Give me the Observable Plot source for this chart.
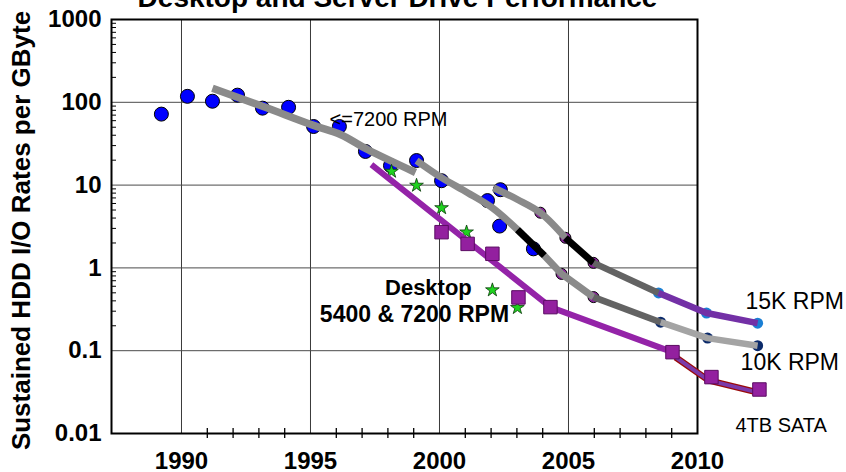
<!DOCTYPE html>
<html><head><meta charset="utf-8">
<script src="https://cdn.jsdelivr.net/npm/d3@7"></script>
<script src="https://cdn.jsdelivr.net/npm/@observablehq/plot@0.6"></script>
<style>
html,body{margin:0;padding:0;background:#fff;overflow:hidden}
#chart svg{display:block}
</style></head><body><div id="chart"></div>
<script>
// ---- data ----
const title = "Desktop and Server Drive Performance";
const yTitle = "Sustained HDD I/O Rates per GByte";
const xTickYears = [1990, 1995, 2000, 2005, 2010];
const xTickLabels = ["1990", "1995", "2000", "2005", "2010"];
const xMinorYears = [1991,1992,1993,1994,1996,1997,1998,1999,2001,2002,2003,2004,2006,2007,2008,2009];
const yTickValues = [0.01, 0.1, 1, 10, 100, 1000];
const yTickLabels = ["0.01", "0.1", "1", "10", "100", "1000"];
const yMinorDecades = [0.1, 1, 10, 100];
const yMinorMultipliers = [2, 3, 4, 5, 6, 7, 8, 9];

// blue dots (<=7200 RPM drives)
const blueYears  = [1989.22, 1990.23, 1991.20, 1992.17, 1993.14, 1994.15, 1995.12, 1996.12, 1997.13, 1998.10, 1999.11, 2000.08, 2001.86, 2002.36, 2002.33, 2003.64];
const blueValues = [72, 118, 103, 122, 85, 87, 51, 51, 25.5, 17.2, 19.8, 11.3, 6.5, 8.8, 3.2, 1.7];
// green stars
const starYears  = [1998.14, 1999.11, 2000.08, 2001.05, 2002.05, 2003.02];
const starValues = [14.6, 9.9, 5.3, 2.7, 0.54, 0.33];
// purple squares (desktop)
const squareYears  = [2000.08, 2001.09, 2002.05, 2003.06, 2004.30, 2009.03, 2010.54, 2012.40];
const squareValues = [2.7, 1.95, 1.48, 0.44, 0.336, 0.096, 0.048, 0.034];
// purple circles on server curves
const pcircleYears  = [2003.91, 2004.88, 2005.97, 2004.73, 2005.97];
const pcircleValues = [4.64, 2.31, 1.15, 0.846, 0.444];
// 15K points / 10K points
const k15DotYears  = [2008.49, 2010.35, 2012.33];
const k15DotValues = [0.498, 0.285, 0.215];
const k10DotYears  = [2008.57, 2010.39, 2012.33];
const k10DotValues = [0.221, 0.142, 0.115];

// trend lines
const r7200Years  = [1991.20, 1993.14, 1995.12, 1996.16, 1997.21, 1999.07];
const r7200Values = [148, 89.5, 52.6, 40.9, 26.9, 14.2];
const k10Years  = [1999.11, 2000.08, 2001.09, 2002.05, 2003.02, 2004.07, 2004.73, 2005.97, 2008.57, 2010.39, 2012.33];
const k10Values = [19.8, 12.3, 8.1, 5.3, 2.9, 1.40, 0.846, 0.444, 0.221, 0.142, 0.115];
const k15Years  = [2002.09, 2003.02, 2003.91, 2004.88, 2005.97, 2008.49, 2010.35, 2012.33];
const k15Values = [9.3, 6.7, 4.64, 2.31, 1.15, 0.498, 0.285, 0.215];
const deskYears  = [1997.36, 2004.30, 2009.03];
const deskValues = [17.7, 0.336, 0.096];
const sataYears  = [2009.15, 2010.43, 2012.33];
const sataValues = [0.0834, 0.0438, 0.0314];

// annotations
const labelTexts  = ["<=7200 RPM", "Desktop", "5400 & 7200 RPM", "15K RPM", "10K RPM", "4TB SATA"];
const labelYears  = [1995.74, 1999.57, 1999.03, 2011.86, 2011.67, 2011.47];
const labelValues = [51.2, 0.471, 0.221, 0.318, 0.058, 0.0103];

// ---- drawing ----
const FONT = "'Liberation Sans', Arial, Helvetica, sans-serif";
const GRAY = "#8a8a8a", DARK = "#636363", LIGHT = "#a4a4a4", BLACK = "#000000";
const yMinor = yMinorDecades.flatMap(d => yMinorMultipliers.map(m => d * m));

function seg(xs, ys, i0, i1, stroke, strokeWidth, curve = "linear") {
  const idx = d3.range(i0, i1 + 1);
  return Plot.line(idx, {x: i => xs[i], y: i => ys[i], stroke, strokeWidth, curve, strokeLinejoin: "round", strokeLinecap: "butt"});
}
function dots(xs, ys, opts) {
  return Plot.dot(d3.range(xs.length), {x: i => xs[i], y: i => ys[i], ...opts});
}
function label(i, opts) {
  return Plot.text([i], {x: j => labelYears[j], y: j => labelValues[j], text: j => labelTexts[j], lineAnchor: "bottom", fill: "#000", ...opts});
}

const chart = Plot.plot({
  width: 846, height: 472,
  marginLeft: 111, marginRight: 149, marginTop: 19, marginBottom: 39,
  style: {fontFamily: FONT, background: "#fff", overflow: "visible"},
  x: {type: "linear", domain: [1987.287, 2010], axis: null},
  y: {type: "log", domain: [0.01, 1000], axis: null},
  marks: [
    Plot.ruleX(xTickYears.slice(0, 4), {x: d => d, stroke: "#3a3a3a", strokeWidth: 1}),
    Plot.ruleY(yTickValues.slice(1, 5), {y: d => d, stroke: "#4a4a4a", strokeWidth: 1}),
    Plot.ruleX(xMinorYears, {x: d => d, y1: 0.01, y2: 0.01, insetTop: -5, insetBottom: -5, stroke: "#000", strokeWidth: 1.3}),
    Plot.ruleY(yMinor, {y: d => d, insetRight: 581, stroke: "#000", strokeWidth: 1}),
    Plot.frame({stroke: "#000", strokeWidth: 2}),

    // dots under the lines
    dots(blueYears, blueValues, {r: 7, fill: "#0000ff", stroke: "#000", strokeWidth: 1}),
    dots(pcircleYears, pcircleValues, {r: 5.5, fill: "#8a249c", stroke: "#000", strokeWidth: 1}),
    dots(k15DotYears, k15DotValues, {r: 5.5, fill: "#1a7fd4"}),
    dots(k10DotYears, k10DotValues, {r: 5.5, fill: "#0b2a6a"}),

    // <=7200 trend
    seg(r7200Years, r7200Values, 0, r7200Years.length - 1, GRAY, 7.5, "catmull-rom"),
    // 10K curve
    seg(k10Years, k10Values, 0, 4, GRAY, 7, "catmull-rom"),
    seg(k10Years, k10Values, 4, 5, BLACK, 7),
    seg(k10Years, k10Values, 5, 7, GRAY, 7),
    seg(k10Years, k10Values, 7, 8, DARK, 6.5),
    seg(k10Years, k10Values, 8, 10, LIGHT, 6.5),
    // 15K curve
    seg(k15Years, k15Values, 0, 3, GRAY, 7, "catmull-rom"),
    seg(k15Years, k15Values, 3, 4, BLACK, 7),
    seg(k15Years, k15Values, 4, 5, DARK, 6.5),
    seg(k15Years, k15Values, 5, 7, "#7330a6", 6.5),

    // stars
    dots(starYears, starValues, {symbol: "star", r: 4.3, fill: "#1fd21f", stroke: "#0a3a0a", strokeWidth: 0.8}),

    // desktop line
    seg(deskYears, deskValues, 0, 2, "#9423a8", 6),
    seg(sataYears, sataValues, 0, 2, "#9a0a0a", 6.5),
    seg(sataYears, sataValues, 0, 2, "#7b3aaa", 4),

    // squares
    dots(squareYears, squareValues, {symbol: "square", r: 7.6, fill: "#93209f", stroke: "#5a0c62", strokeWidth: 1}),

    // annotations
    label(0, {textAnchor: "start", fontSize: 20}),
    label(1, {textAnchor: "middle", fontSize: 22, fontWeight: "bold"}),
    label(2, {textAnchor: "middle", fontSize: 23, fontWeight: "bold"}),
    label(3, {textAnchor: "start", fontSize: 23}),
    label(4, {textAnchor: "start", fontSize: 23}),
    label(5, {textAnchor: "start", fontSize: 20}),

    // tick labels
    Plot.text(yTickValues, {y: d => d, text: (d, i) => yTickLabels[i], frameAnchor: "left", textAnchor: "end", lineAnchor: "middle", dx: -10, fontSize: 24, fontWeight: "bold", fill: "#000"}),
    Plot.text(xTickYears, {x: d => d, text: (d, i) => xTickLabels[i], frameAnchor: "bottom", textAnchor: "middle", lineAnchor: "bottom", dy: 35, fontSize: 24, fontWeight: "bold", fill: "#000"}),
    // axis title & chart title
    Plot.text([yTitle], {frameAnchor: "left", textAnchor: "middle", rotate: -90, dx: -90, dy: 4, lineAnchor: "middle", fontSize: 26, fontWeight: "bold", fill: "#000"}),
    Plot.text([title], {frameAnchor: "top", textAnchor: "middle", lineAnchor: "bottom", dx: -7, dy: -13, fontSize: 28, fontWeight: "bold", fill: "#000"})
  ]
});
document.getElementById("chart").appendChild(chart);
</script></body></html>
